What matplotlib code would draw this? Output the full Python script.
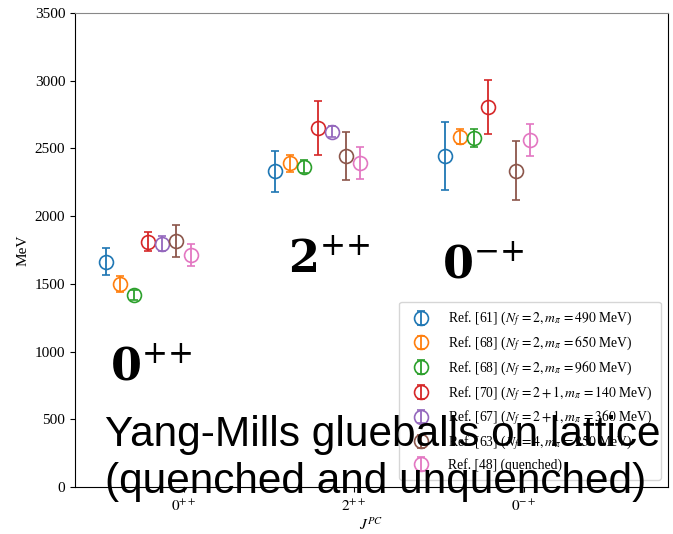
import numpy as np
import matplotlib
matplotlib.use("Agg")
import matplotlib.pyplot as plt

plt.rcParams["mathtext.fontset"] = "stix"
plt.rcParams["font.family"] = ["Liberation Serif", "DejaVu Serif"]

# Glueball channels on the x axis
states = [r"$0^{++}$", r"$2^{++}$", r"$0^{-+}$"]

# Lattice references (legend entries)
ref_labels = [
    r"Ref. [61] ($N_f\,=2, m_\pi\,=490$ MeV)",
    r"Ref. [68] ($N_f\,=2, m_\pi\,=650$ MeV)",
    r"Ref. [68] ($N_f\,=2, m_\pi\,=960$ MeV)",
    r"Ref. [70] ($N_f\,=2+1, m_\pi\,=140$ MeV)",
    r"Ref. [67] ($N_f\,=2+1, m_\pi\,=360$ MeV)",
    r"Ref. [63] ($N_f\,=4, m_\pi\,=250$ MeV)",
    r"Ref. [48] (quenched)",
]
colors = ["C0", "C1", "C2", "C3", "C4", "C5", "C6"]

# Masses (MeV) and uncertainties per channel, one entry per reference
mass_0pp = [1665, 1500, 1418, 1810, 1795, 1817, 1713]
err_0pp = [100, 60, 37, 70, 55, 118, 78]
mass_2pp = [2330, 2390, 2366, 2650, 2624, 2447, 2393]
err_2pp = [148, 64, 48, 200, 40, 177, 118]
mass_0mp = [2445, 2587, 2575, 2804, np.nan, 2334, 2563]
err_0mp = [250, 57, 66, 200, np.nan, 218, 120]

fig = plt.figure(figsize=(6.73, 5.34), dpi=100)
ax = fig.add_axes([0.1114, 0.088, 0.8811, 0.8876])

xc = np.arange(len(states))
for k, lab in enumerate(ref_labels):
    y = np.array([mass_0pp[k], mass_2pp[k], mass_0mp[k]], dtype=float)
    e = np.array([err_0pp[k], err_2pp[k], err_0mp[k]], dtype=float)
    x = xc - 0.46 + k / 12.0
    ax.errorbar(x, y, yerr=e, fmt="o", color=colors[k], mfc="none",
                ms=10, mew=1.2, elinewidth=1.3, capsize=3, capthick=1.3,
                label=lab)

ax.set_xlim(-0.64, 2.85)
ax.set_ylim(0, 3500)
ax.set_yticks(np.arange(0, 3501, 500))
ax.set_xticks(xc)
ax.set_xticklabels(states)
ax.tick_params(labelsize=11)
ax.tick_params(axis="x", pad=5)
ax.set_ylabel("MeV", fontsize=11)
ax.set_xlabel(r"$J^{PC}$", fontsize=11, labelpad=2)
ax.spines["top"].set_color("#888888")

ax.legend(loc="lower right", prop={"size": 9.8}, labelspacing=0.45,
          handletextpad=1.0, borderpad=0.6, borderaxespad=0.5)

# Channel labels and title annotation
big = dict(fontsize=32, math_fontfamily="dejavuserif", va="baseline",
           ha="left", color="black")
fig.text(288 / 673, 1 - 273 / 534, r"$\mathbf{2}^{{+}{+}}$", **big)
fig.text(442 / 673, 1 - 278 / 534, r"$\mathbf{0}^{{-}{+}}$", **big)
fig.text(110 / 673, 1 - 380 / 534, r"$\mathbf{0}^{{+}{+}}$", **big)

title = dict(fontsize=30.5, family="Liberation Sans", va="baseline",
             ha="left", color="black")
fig.text(105 / 673, 1 - 446 / 534, "Yang-Mills glueballs on lattice", **title)
fig.text(105 / 673, 1 - 493 / 534, "(quenched and unquenched)", **title)

fig.savefig("out.png", dpi=100)
